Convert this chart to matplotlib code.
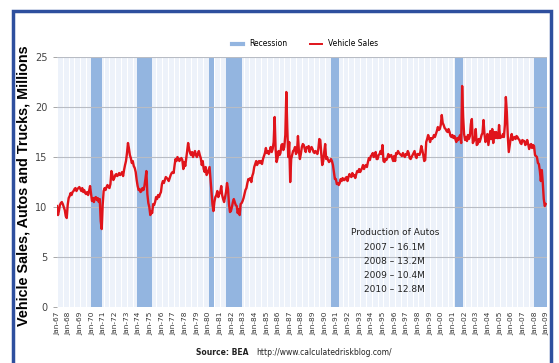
import numpy as np
import pandas as pd
import matplotlib.pyplot as plt
from matplotlib.patches import Rectangle
from matplotlib.lines import Line2D

# monthly light vehicle sales, SAAR, millions (Jan..Dec per year)
sales_by_year = {
    1967: [10.1, 9.2, 9.6, 10.2, 10.4, 10.5, 10.3, 10.0, 9.7, 9.1, 8.9, 10.2],
    1968: [10.9, 11.1, 11.4, 11.2, 11.5, 11.6, 11.8, 11.9, 11.6, 11.8, 11.9, 12.0],
    1969: [11.8, 11.6, 11.9, 11.5, 11.7, 11.4, 11.3, 11.5, 11.2, 11.6, 12.1, 11.4],
    1970: [10.6, 10.9, 10.5, 10.9, 11.0, 10.7, 10.9, 10.5, 10.8, 8.6, 7.8, 10.2],
    1971: [11.6, 11.9, 11.7, 12.0, 12.2, 12.0, 11.9, 12.3, 13.6, 13.2, 12.7, 12.9],
    1972: [13.2, 13.3, 13.1, 13.2, 13.4, 13.2, 13.3, 13.5, 13.1, 13.7, 14.2, 14.6],
    1973: [15.4, 16.4, 15.9, 15.2, 14.9, 14.4, 14.6, 14.1, 13.9, 13.5, 12.7, 12.1],
    1974: [11.7, 11.8, 11.5, 11.6, 11.9, 11.7, 12.1, 12.8, 13.6, 11.3, 10.4, 10.0],
    1975: [9.2, 9.6, 9.4, 10.3, 10.2, 10.5, 11.0, 10.8, 11.2, 11.0, 11.3, 11.5],
    1976: [12.3, 12.6, 12.4, 12.7, 13.0, 12.9, 12.8, 12.6, 12.9, 13.2, 13.4, 13.5],
    1977: [13.4, 14.2, 14.8, 14.6, 15.0, 14.8, 14.6, 14.8, 14.9, 14.7, 13.8, 14.5],
    1978: [14.1, 14.9, 15.6, 16.4, 15.8, 15.4, 15.2, 15.5, 15.0, 15.3, 15.6, 15.2],
    1979: [15.0, 15.3, 15.6, 15.2, 14.9, 14.2, 14.6, 13.8, 13.5, 14.0, 13.2, 13.4],
    1980: [13.7, 14.0, 12.8, 11.5, 10.3, 9.6, 10.5, 11.0, 11.2, 11.6, 11.0, 11.3],
    1981: [11.5, 12.1, 11.2, 10.8, 10.5, 11.0, 11.5, 12.4, 11.8, 10.3, 9.5, 9.6],
    1982: [10.0, 10.5, 10.8, 10.5, 10.2, 10.1, 9.4, 9.8, 9.2, 10.3, 10.4, 10.6],
    1983: [10.9, 11.3, 11.7, 11.9, 12.4, 12.8, 12.7, 12.9, 12.5, 13.1, 13.4, 14.0],
    1984: [14.3, 14.6, 14.2, 14.5, 14.6, 14.4, 14.6, 14.3, 14.8, 15.1, 15.4, 15.9],
    1985: [15.4, 15.6, 15.3, 15.6, 16.0, 15.5, 15.8, 16.5, 19.0, 15.8, 14.5, 14.9],
    1986: [15.6, 15.2, 15.4, 16.2, 16.3, 15.7, 16.0, 17.2, 21.5, 18.0, 15.0, 16.5],
    1987: [12.5, 14.8, 15.2, 15.6, 15.7, 16.0, 15.3, 15.5, 17.1, 15.6, 14.8, 15.3],
    1988: [16.0, 16.3, 16.2, 15.8, 15.5, 16.0, 15.9, 16.1, 15.5, 15.9, 16.0, 15.8],
    1989: [15.5, 15.4, 15.6, 15.5, 15.3, 15.8, 16.8, 16.7, 15.3, 14.2, 14.6, 15.5],
    1990: [16.3, 14.8, 15.0, 14.7, 14.5, 14.6, 14.8, 14.6, 14.2, 13.5, 12.8, 12.8],
    1991: [12.3, 12.4, 12.2, 12.4, 12.8, 12.6, 12.9, 12.7, 12.7, 12.9, 13.0, 12.6],
    1992: [13.0, 13.3, 13.1, 13.0, 13.4, 13.1, 13.2, 12.9, 13.3, 13.6, 13.5, 13.8],
    1993: [13.5, 13.7, 13.9, 14.2, 13.8, 14.1, 14.2, 14.0, 14.5, 14.9, 14.7, 15.1],
    1994: [15.2, 15.4, 15.0, 15.1, 15.5, 14.8, 14.8, 15.2, 15.3, 15.6, 15.3, 16.2],
    1995: [14.6, 14.5, 14.8, 14.7, 14.9, 15.3, 15.0, 15.1, 15.2, 14.9, 14.6, 15.1],
    1996: [14.6, 15.4, 15.3, 15.6, 15.4, 15.3, 15.2, 15.1, 15.4, 15.2, 15.0, 15.3],
    1997: [15.2, 15.6, 15.4, 14.9, 14.8, 15.0, 15.2, 15.4, 15.6, 15.1, 14.9, 15.3],
    1998: [15.3, 15.2, 15.5, 16.1, 15.7, 15.2, 14.6, 14.7, 16.5, 16.8, 17.2, 16.9],
    1999: [16.5, 16.9, 16.8, 16.9, 17.2, 17.0, 17.3, 17.6, 18.0, 17.7, 17.8, 18.2],
    2000: [19.2, 18.4, 18.2, 17.9, 17.8, 17.6, 17.5, 17.8, 17.5, 17.1, 17.0, 17.2],
    2001: [16.9, 17.1, 16.8, 16.5, 16.9, 16.7, 17.0, 17.2, 16.4, 22.1, 19.0, 17.3],
    2002: [16.7, 17.0, 16.6, 17.2, 16.8, 17.1, 18.3, 18.8, 16.4, 16.6, 16.8, 17.8],
    2003: [16.2, 16.3, 16.8, 16.5, 16.8, 17.2, 17.4, 18.7, 17.3, 16.5, 16.7, 17.3],
    2004: [16.2, 16.9, 17.6, 16.8, 17.8, 16.4, 17.5, 16.9, 17.5, 16.9, 16.9, 18.2],
    2005: [16.9, 17.0, 17.0, 17.3, 17.0, 18.2, 21.0, 19.5, 17.0, 15.5, 16.2, 16.9],
    2006: [17.3, 16.7, 16.9, 17.0, 16.8, 17.1, 17.0, 16.8, 16.7, 16.4, 16.3, 16.7],
    2007: [16.6, 16.6, 16.2, 16.3, 16.7, 16.3, 15.8, 16.2, 16.3, 15.9, 16.2, 16.1],
    2008: [15.2, 15.1, 15.0, 14.4, 14.3, 13.6, 12.6, 13.7, 12.4, 10.8, 10.1, 10.3],
}

# NBER recessions (start, end)
recessions = [
    ('1969-12', '1970-11'),
    ('1973-11', '1975-03'),
    ('1980-01', '1980-07'),
    ('1981-07', '1982-11'),
    ('1990-07', '1991-03'),
    ('2001-03', '2001-11'),
    ('2007-12', '2009-01'),
]

production_notes = ['Production of Autos', '2007 – 16.1M', '2008 – 13.2M',
                    '2009 – 10.4M', '2010 – 12.8M']

dates = pd.date_range('1967-01-01', '2008-12-01', freq='MS')
sales = np.concatenate([sales_by_year[y] for y in sorted(sales_by_year)])

fig = plt.figure(figsize=(5.59, 3.63), dpi=100)
ax = fig.add_axes([0.102, 0.154, 0.876, 0.689])
ax.set_facecolor('#edf2fa')

# pale vertical stripes every half year, under everything else
for t in pd.date_range('1967-01-01', '2009-01-01', freq='6MS'):
    ax.axvline(t, color='white', lw=0.8, zorder=0.5)

for start, end in recessions:
    ax.axvspan(pd.Timestamp(start), pd.Timestamp(end), color='#93b5e0', lw=0, zorder=1)

for v in range(5, 26, 5):
    ax.axhline(v, color='#b8bcc4', lw=0.8, zorder=2)

ax.plot(dates, sales, color='#e0141b', lw=1.7, zorder=3)

ax.set_xlim(pd.Timestamp('1967-01-01'), pd.Timestamp('2009-01-01'))
ax.set_ylim(0, 25)
ax.set_yticks(range(0, 26, 5))

ticks = pd.date_range('1967-01-01', '2009-01-01', freq='YS')
ax.set_xticks(ticks)
ax.set_xticklabels([t.strftime('Jan-%y') for t in ticks], rotation=90,
                   fontsize=5.3, color='#333333')
ax.tick_params(axis='x', length=0, pad=3)
ax.tick_params(axis='y', length=3, width=0.6, color='#999999', labelsize=7,
               labelcolor='#444444', pad=4)
for s in ax.spines.values():
    s.set_visible(False)

ax.set_ylabel('Vehicle Sales, Autos and Trucks, Millions', fontsize=10.4,
              fontweight='bold', family='Liberation Sans')
ax.yaxis.set_label_coords(-0.054, 0.485)

ax.text(0.69, 0.315, '\n'.join(production_notes), transform=ax.transAxes,
        ha='center', va='top', fontsize=6.5, linespacing=1.75, color='#222222')

handles = [Line2D([], [], color='#93b5e0', lw=3),
           Line2D([], [], color='#e0141b', lw=1.4)]
fig.legend(handles, ['Recession', 'Vehicle Sales'], loc='center',
           bbox_to_anchor=(0.545, 0.879), ncol=2, frameon=False, fontsize=5.5,
           handlelength=1.5, columnspacing=3)

fig.text(0.445, 0.03, 'Source: BEA', ha='right', va='center', fontsize=5.5,
         fontweight='bold', color='#222222')
fig.text(0.458, 0.03, 'http://www.calculatedriskblog.com/', ha='left', va='center',
         fontsize=5.5, color='#222222')

fig.add_artist(Rectangle((0.024, -0.02), 0.961, 0.99, transform=fig.transFigure,
                         fill=False, ec='#2e4f9e', lw=2.5))

fig.savefig('out.png', dpi=100)
